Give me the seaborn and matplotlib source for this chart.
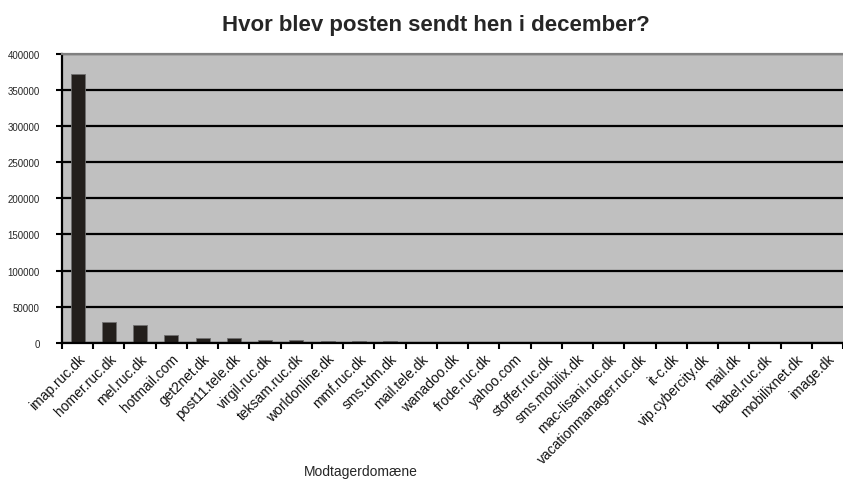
import matplotlib
matplotlib.use("Agg")
import matplotlib.pyplot as plt
import seaborn as sns
import numpy as np
import pandas as pd

# Data
domains = [
    "imap.ruc.dk", "homer.ruc.dk", "mel.ruc.dk", "hotmail.com", "get2net.dk",
    "post11.tele.dk", "virgil.ruc.dk", "teksam.ruc.dk", "worldonline.dk", "mmf.ruc.dk",
    "sms.tdm.dk", "mail.tele.dk", "wanadoo.dk", "frode.ruc.dk", "yahoo.com",
    "stoffer.ruc.dk", "sms.mobilix.dk", "mac-lisani.ruc.dk", "vacationmanager.ruc.dk", "it-c.dk",
    "vip.cybercity.dk", "mail.dk", "babel.ruc.dk", "mobilixnet.dk", "image.dk",
]
mails = [
    372000, 29000, 24500, 11500, 6500,
    6500, 4600, 4600, 3200, 3000,
    3300, 1800, 1500, 1400, 1300,
    1300, 1200, 1200, 1100, 1100,
    1000, 1000, 1000, 900, 900,
]
yticks = [0, 50000, 100000, 150000, 200000, 250000, 300000, 350000, 400000]

df = pd.DataFrame({"domain": domains, "mails": mails})

sns.set_style("white")
plt.rcParams["font.family"] = ["Liberation Sans", "DejaVu Sans"]

fig = plt.figure(figsize=(8.43, 4.81), dpi=100)
ax = fig.add_axes([62 / 843, 1 - 344 / 481, 1 - 62 / 843, (344 - 54.5) / 481])
ax.set_facecolor("#c0c0c0")

sns.barplot(data=df, x="domain", y="mails", order=domains, color="#231f1c",
            edgecolor="#707070", linewidth=0.6, width=0.45, saturation=1, ax=ax)

ax.set_ylim(0, 400000)
ax.set_xlim(-0.5, len(domains) - 0.5)
ax.set_yticks(yticks)
ax.set_yticklabels([str(v) for v in yticks], fontsize=7)
ax.yaxis.grid(True, color="black", linewidth=1.6)
ax.set_axisbelow(True)

# category boundary ticks like the original
ax.set_xticks(range(len(domains)))
ax.set_xticklabels(domains, rotation=45, ha="right", rotation_mode="anchor",
                   fontsize=10, color="#111111")
ax.set_xticks(np.arange(len(domains) + 1) - 0.5, minor=True)
ax.tick_params(axis="x", which="minor", bottom=True, length=4, width=1.5,
               color="black", direction="out")
ax.tick_params(axis="x", which="major", bottom=True, length=0, pad=6)
ax.tick_params(axis="y", left=True, length=4, width=1.5, color="black",
               direction="out", pad=12)

for s in ["left", "bottom"]:
    ax.spines[s].set_color("black")
    ax.spines[s].set_linewidth(1.6)
ax.spines["top"].set_color("#808080")
ax.spines["top"].set_linewidth(1.6)
ax.spines["right"].set_visible(False)

ax.set_xlabel("")
ax.set_ylabel("")

fig.text(436 / 843, 1 - 25 / 481, "Hvor blev posten sendt hen i december?",
         ha="center", va="center", fontsize=16, fontweight="bold")
fig.text(361 / 843, 1 - 472 / 481, "Modtagerdomæne", ha="center", va="center",
         fontsize=10)

fig.savefig("out.png", dpi=100)
